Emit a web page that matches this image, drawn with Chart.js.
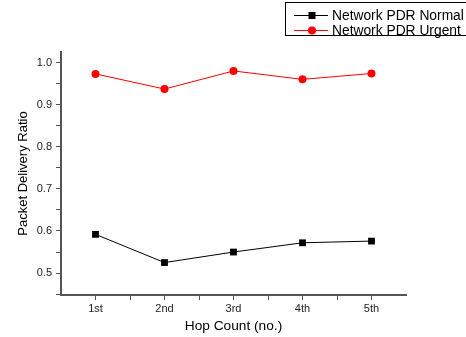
<!DOCTYPE html>
<html>
<head>
<meta charset="utf-8">
<script src="https://cdn.jsdelivr.net/npm/chart.js@4"></script>
<style>
  html, body { margin: 0; padding: 0; background: #fff; }
  #wrap { position: relative; width: 466px; height: 337px; }
</style>
</head>
<body>
<div id="wrap"><canvas id="pdrChart" width="466" height="337"></canvas></div>
<script>
const hopLabels = ['1st', '2nd', '3rd', '4th', '5th'];
const pdrNormal = [0.592, 0.525, 0.550, 0.572, 0.576];
const pdrUrgent = [0.973, 0.937, 0.980, 0.960, 0.974];
const yTickValues = [0.45, 0.5, 0.55, 0.6, 0.65, 0.7, 0.75, 0.8, 0.85, 0.9, 0.95, 1.0];
const xTickValues = [1, 1.5, 2, 2.5, 3, 3.5, 4, 4.5, 5];

const font = 'Arial, "Liberation Sans", sans-serif';
const axisColor = '#555';

function toPoints(values) {
    return values.map((v, i) => ({ x: i + 1, y: v }));
}

// legend box drawn on the canvas, top right
const boxLegend = {
    id: 'boxLegend',
    afterDraw(chart) {
        const ctx = chart.ctx;
        ctx.save();
        ctx.strokeStyle = '#000';
        ctx.lineWidth = 1;
        ctx.strokeRect(285.5, 2.5, 190, 33);
        chart.data.datasets.forEach((ds, i) => {
            const y = 15 + i * 15;
            ctx.strokeStyle = ds.borderColor;
            ctx.lineWidth = 1;
            ctx.beginPath();
            ctx.moveTo(294, y + 0.5);
            ctx.lineTo(328, y + 0.5);
            ctx.stroke();
            ctx.fillStyle = ds.pointBackgroundColor;
            if (ds.pointStyle === 'rect') {
                ctx.fillRect(308.5, y - 3, 7, 7);
            } else {
                ctx.beginPath();
                ctx.arc(312, y + 0.5, 4, 0, Math.PI * 2);
                ctx.fill();
            }
            ctx.fillStyle = '#000';
            ctx.font = '13.8px ' + font;
            ctx.textBaseline = 'middle';
            ctx.fillText(ds.label, 332, y + 1);
        });
        ctx.restore();
    }
};

const ctx = document.getElementById('pdrChart').getContext('2d');
const pdrChart = new Chart(ctx, {
    type: 'line',
    data: {
        datasets: [{
            label: 'Network PDR Normal',
            data: toPoints(pdrNormal),
            borderColor: '#000',
            backgroundColor: '#000',
            pointBackgroundColor: '#000',
            pointBorderColor: '#000',
            pointStyle: 'rect',
            pointRadius: 4.8,
            pointBorderWidth: 0,
            borderWidth: 1,
            tension: 0
        }, {
            label: 'Network PDR Urgent',
            data: toPoints(pdrUrgent),
            borderColor: '#ff0000',
            backgroundColor: '#ff0000',
            pointBackgroundColor: '#ff0000',
            pointBorderColor: '#ff0000',
            pointStyle: 'circle',
            pointRadius: 4,
            pointBorderWidth: 0,
            borderWidth: 1,
            tension: 0
        }]
    },
    options: {
        responsive: false,
        animation: false,
        events: [],
        layout: { padding: { top: 52, right: 60, left: 0, bottom: 0 } },
        plugins: {
            legend: { display: false },
            tooltip: { enabled: false }
        },
        scales: {
            x: {
                type: 'linear',
                min: 0.5,
                max: 5.5,
                afterBuildTicks: scale => { scale.ticks = xTickValues.map(v => ({ value: v })); },
                afterFit: scale => { scale.height = 42; },
                border: { display: true, color: axisColor, width: 2 },
                grid: {
                    drawOnChartArea: false,
                    drawTicks: true,
                    tickLength: 5,
                    tickColor: axisColor,
                    tickWidth: 1
                },
                ticks: {
                    autoSkip: false,
                    maxRotation: 0,
                    padding: 2,
                    color: '#222',
                    font: { family: font, size: 11 },
                    callback: v => Number.isInteger(v) ? hopLabels[v - 1] : ''
                },
                title: {
                    display: true,
                    text: 'Hop Count (no.)',
                    color: '#000',
                    font: { family: font, size: 13.7 },
                    padding: { top: 0, bottom: 3 }
                }
            },
            y: {
                min: 0.448,
                max: 1.025,
                afterBuildTicks: scale => { scale.ticks = yTickValues.map(v => ({ value: v })); },
                afterFit: scale => { scale.width = 61; },
                border: { display: true, color: axisColor, width: 2 },
                grid: {
                    drawOnChartArea: false,
                    drawTicks: true,
                    tickLength: 5,
                    tickColor: axisColor,
                    tickWidth: 1
                },
                ticks: {
                    autoSkip: false,
                    padding: 4,
                    color: '#222',
                    font: { family: font, size: 11 },
                    callback: v => (Math.round(v * 100) % 10 === 0) ? v.toFixed(1) : ''
                },
                title: {
                    display: true,
                    text: 'Packet Delivery Ratio',
                    color: '#000',
                    font: { family: font, size: 13 },
                    padding: { top: 16, bottom: 0 }
                }
            }
        }
    },
    plugins: [boxLegend]
});
</script>
</body>
</html>
